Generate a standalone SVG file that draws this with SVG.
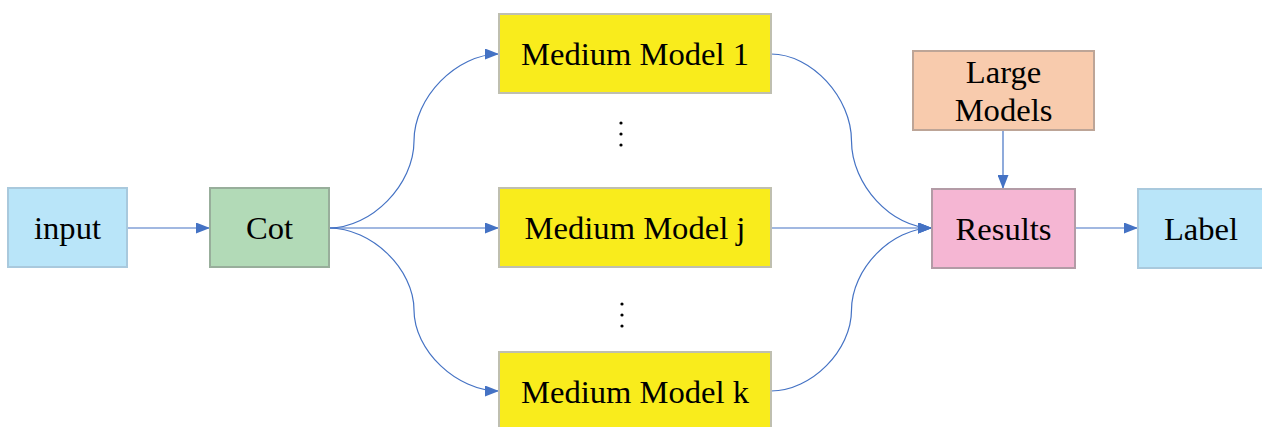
<svg xmlns="http://www.w3.org/2000/svg" width="1262" height="427" viewBox="0 0 1262 427">
  <defs>
    <marker id="arrow" viewBox="0 0 14 11" refX="14" refY="5.5" markerWidth="14" markerHeight="11" markerUnits="userSpaceOnUse" orient="auto">
      <path d="M0,0 L14,5.5 L0,11 Z" fill="#4472C4"/>
    </marker>
  </defs>
  <style>
    .box { stroke-width: 2; }
    .lbl { font-family: 'Liberation Serif', 'DejaVu Serif', serif; font-size: 32.6px; fill: #000; text-anchor: middle; }
    .edge { fill: none; stroke: #4472C4; stroke-width: 1.2; marker-end: url(#arrow); }
    .dot { fill: #000; }
  </style>

  <rect width="1262" height="427" fill="#FFFFFF"/>

  <!-- curved connectors: two cubic segments meeting at a vertical midpoint -->
  <g id="connectors">
    <path class="edge" d="M127,228 L210,228"/>
    <path class="edge" d="M329,228 C371.5,228 414,184.5 414,141 C414,97.5 456.5,54 499,54"/>
    <path class="edge" d="M329,228 L499,228"/>
    <path class="edge" d="M329,228 C371.5,228 414,269 414,310 C414,350.5 456.5,391 499,391"/>
    <path class="edge" d="M771,54 C811.5,54 851.5,97.5 851.5,141 C851.5,184.5 891.5,228 932,228"/>
    <path class="edge" d="M771,228 L932,228"/>
    <path class="edge" d="M771,391 C811.5,391 851.5,350.5 851.5,310 C851.5,269 891.5,228 932,228"/>
    <path class="edge" d="M1003,130 L1003,189"/>
    <path class="edge" d="M1075,228 L1138,228"/>
  </g>

  <g id="input">
    <rect class="box" x="8" y="188" width="119" height="79" fill="#B9E5F9" stroke="#A9C9DD"/>
    <text class="lbl" x="67.5" y="239">input</text>
  </g>

  <g id="cot">
    <rect class="box" x="210" y="188" width="119" height="79" fill="#B2DAB7" stroke="#98AE9B"/>
    <text class="lbl" x="269.5" y="239">Cot</text>
  </g>

  <g id="medium-1">
    <rect class="box" x="499" y="14" width="272" height="79" fill="#F9EC1C" stroke="#BFBFB0"/>
    <text class="lbl" x="635" y="65">Medium Model 1</text>
  </g>

  <g id="dots-upper">
    <circle class="dot" cx="621" cy="123" r="1.6"/>
    <circle class="dot" cx="621" cy="134" r="1.6"/>
    <circle class="dot" cx="621" cy="145" r="1.6"/>
  </g>

  <g id="medium-j">
    <rect class="box" x="499" y="188" width="272" height="79" fill="#F9EC1C" stroke="#BFBFB0"/>
    <text class="lbl" x="635" y="239">Medium Model j</text>
  </g>

  <g id="dots-lower">
    <circle class="dot" cx="622" cy="304" r="1.6"/>
    <circle class="dot" cx="622" cy="315" r="1.6"/>
    <circle class="dot" cx="622" cy="326" r="1.6"/>
  </g>

  <g id="medium-k">
    <rect class="box" x="499" y="352" width="272" height="79" fill="#F9EC1C" stroke="#BFBFB0"/>
    <text class="lbl" x="635" y="403">Medium Model k</text>
  </g>

  <g id="large-models">
    <rect class="box" x="913" y="51" width="181" height="79" fill="#F8CBAD" stroke="#BDA597"/>
    <text class="lbl" x="1003.5" y="83">Large</text>
    <text class="lbl" x="1003.5" y="121">Models</text>
  </g>

  <g id="results">
    <rect class="box" x="932" y="189" width="143" height="79" fill="#F5B6D3" stroke="#B39BA6"/>
    <text class="lbl" x="1003.5" y="240">Results</text>
  </g>

  <g id="label">
    <rect class="box" x="1138" y="189" width="130" height="79" fill="#B9E5F9" stroke="#A9C9DD"/>
    <text class="lbl" x="1201" y="240">Label</text>
  </g>
</svg>
